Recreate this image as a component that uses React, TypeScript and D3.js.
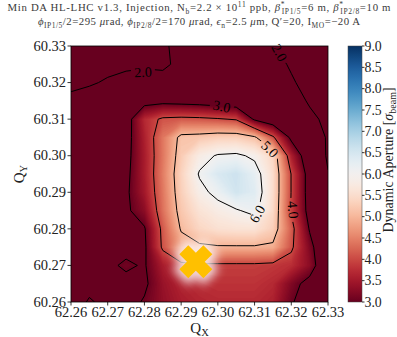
import React from 'react';
import * as d3 from 'd3';

// Tune axes and ticks
const qxTicks = [62.26, 62.27, 62.28, 62.29, 62.3, 62.31, 62.32, 62.33];
const qyTicks = [60.26, 60.27, 60.28, 60.29, 60.3, 60.31, 60.32, 60.33];
const colorTicks = [3.0, 3.5, 4.0, 4.5, 5.0, 5.5, 6.0, 6.5, 7.0, 7.5, 8.0, 8.5, 9.0];
const contourLevels = [2, 3, 4, 5, 6];

// Scan grid: horizontal tune (columns) and vertical tune (rows, top to bottom)
const gridQx = [62.26, 62.265, 62.27, 62.275, 62.28, 62.285, 62.29, 62.295, 62.3, 62.305, 62.31, 62.315, 62.32, 62.325, 62.33];
const gridQy = [60.33, 60.325, 60.32, 60.315, 60.31, 60.305, 60.3, 60.295, 60.29, 60.285, 60.28, 60.275, 60.27, 60.265, 60.26];

// Minimum dynamic aperture [sigma] per tune point, one row per Qy
const daRows: number[][] = [
  [1.5, 1.6, 1.7, 1.8, 1.85, 1.9, 2.2, 2.4, 2.5, 2.4, 2.2, 2.02, 1.8, 1.6, 1.5],
  [1.55, 1.65, 1.75, 1.85, 1.88, 1.85, 2.2, 2.45, 2.55, 2.5, 2.35, 2.15, 1.95, 1.7, 1.6],
  [1.7, 1.9, 2.1, 2.25, 2.35, 2.3, 2.5, 2.55, 2.6, 2.55, 2.45, 2.3, 2.05, 1.85, 1.7],
  [2.3, 2.4, 2.5, 2.6, 2.75, 2.8, 2.75, 2.7, 2.6, 2.5, 2.45, 2.35, 2.2, 1.95, 1.8],
  [2.35, 2.45, 2.55, 2.7, 3.7, 4.1, 4.15, 4.12, 4.05, 3.95, 2.9, 2.5, 2.4, 2.1, 1.9],
  [2.4, 2.5, 2.6, 2.75, 3.6, 4.4, 5.15, 5.2, 5.3, 5.3, 5.1, 4.1, 2.85, 2.3, 1.95],
  [2.45, 2.55, 2.65, 2.8, 3.55, 4.4, 5.25, 5.8, 6.05, 6.1, 5.9, 5.4, 3.6, 2.5, 1.93],
  [2.5, 2.6, 2.7, 2.85, 3.55, 4.45, 5.35, 6.05, 6.45, 6.6, 6.25, 5.5, 3.98, 2.7, 2.02],
  [2.55, 2.65, 2.75, 2.9, 3.5, 4.4, 5.3, 5.85, 6.15, 6.55, 6.35, 5.5, 3.98, 2.7, 2.15],
  [2.55, 2.65, 2.8, 2.9, 3.3, 4.35, 5.2, 5.6, 5.8, 5.95, 6.15, 5.45, 3.95, 2.75, 2.15],
  [2.6, 2.7, 2.8, 2.85, 2.95, 4.15, 5.05, 5.4, 5.55, 5.6, 5.6, 5.3, 4.2, 2.95, 2.2],
  [2.6, 2.7, 2.8, 2.85, 2.9, 4.1, 4.75, 4.9, 4.95, 4.95, 4.95, 4.9, 4.1, 3.2, 2.3],
  [2.6, 2.75, 2.9, 3.08, 2.95, 3.55, 3.85, 3.9, 3.9, 3.9, 3.9, 3.85, 3.75, 3.3, 2.4],
  [2.55, 2.7, 2.8, 2.85, 2.9, 3.4, 3.65, 3.75, 3.8, 3.8, 3.8, 3.7, 3.2, 2.8, 2.35],
  [2.5, 3.1, 2.75, 2.8, 3.05, 3.35, 3.55, 3.65, 3.7, 3.7, 3.7, 3.6, 3.05, 2.7, 2.3],
];

// Inline contour labels: level, position in tune space, rotation
const contourLabels = [
  { level: 2, qx: 62.2796, qy: 60.3229, angle: -2 },
  { level: 2, qx: 62.3168, qy: 60.3282, angle: 62 },
  { level: 3, qx: 62.3011, qy: 60.3135, angle: 12 },
  { level: 5, qx: 62.3142, qy: 60.3018, angle: 45 },
  { level: 4, qx: 62.3205, qy: 60.2852, angle: 85 },
  { level: 6, qx: 62.3107, qy: 60.2841, angle: -60 },
];

// Nominal working point
const workingPoint = { qx: 62.294, qy: 60.271 };

const W = 397;
const H = 337;
const plot = { left: 71, top: 46, right: 328, bottom: 302 };
const cbar = { left: 348, width: 14 };
const FONT = '"Liberation Serif", "DejaVu Serif", serif';

export default function App() {
  const x = d3.scaleLinear().domain([62.26, 62.33]).range([plot.left, plot.right]);
  const y = d3.scaleLinear().domain([60.26, 60.33]).range([plot.bottom, plot.top]);
  const color = d3.scaleSequential(d3.interpolateRdBu).domain([3, 9]).clamp(true);
  const cy = d3.scaleLinear().domain([3, 9]).range([plot.bottom, plot.top]);

  const nx = gridQx.length;
  const ny = gridQy.length;
  const values = daRows.flat();
  const dqx = gridQx[1] - gridQx[0];
  const dqy = gridQy[0] - gridQy[1];

  // grid coordinates -> screen: sample i sits at grid coordinate i + 0.5
  const toScreen = d3.geoTransform({
    point(px: number, py: number) {
      (this as any).stream.point(
        x(gridQx[0] + (px - 0.5) * dqx),
        y(gridQy[0] - (py - 0.5) * dqy)
      );
    },
  });
  const path = d3.geoPath(toScreen);

  const fillLevels = d3.range(3, 7.001, 0.04);
  const bands = d3.contours().size([nx, ny]).thresholds(fillLevels)(values);
  const lines = d3.contours().size([nx, ny]).thresholds(contourLevels)(values);

  // filled X marker (plus rotated by 45 degrees)
  const L = 17;
  const w = 6.3;
  const plusPts = [
    [w, L], [w, w], [L, w], [L, -w], [w, -w], [w, -L],
    [-w, -L], [-w, -w], [-L, -w], [-L, w], [-w, w], [-w, L],
  ];
  const markerPath = 'M' + plusPts.map((p) => p.join(',')).join('L') + 'Z';
  const wpX = x(workingPoint.qx);
  const wpY = y(workingPoint.qy);

  const gradStops = d3.range(0, 1.0001, 0.02);
  const sub = 7.5;

  return (
    <svg
      width={W}
      height={H}
      style={{ position: 'absolute', left: 0, top: 0, background: '#fff' }}
      fontFamily={FONT}
    >
      <defs>
        <clipPath id="plotClip">
          <rect x={plot.left} y={plot.top} width={plot.right - plot.left} height={plot.bottom - plot.top} />
        </clipPath>
        <mask id="labelGaps" maskUnits="userSpaceOnUse" x={0} y={0} width={W} height={H}>
          <rect x={0} y={0} width={W} height={H} fill="white" />
          {contourLabels.map((l, i) => (
            <rect
              key={i}
              transform={`translate(${x(l.qx)},${y(l.qy)}) rotate(${l.angle})`}
              x={-12}
              y={-5}
              width={24}
              height={10}
              fill="black"
            />
          ))}
        </mask>
        <linearGradient id="cbarGrad" x1="0" y1="1" x2="0" y2="0">
          {gradStops.map((t) => (
            <stop key={t} offset={t} stopColor={color(3 + 6 * t)} />
          ))}
        </linearGradient>
        <filter id="halo" x="-60%" y="-60%" width="220%" height="220%">
          <feGaussianBlur stdDeviation="5" />
        </filter>
      </defs>

      {/* title */}
      <g fill="#3a3a3a" fontSize={10.8} textAnchor="middle">
        <text x={199} y={11} textLength={383} lengthAdjust="spacing">
          Min DA HL-LHC v1.3, Injection, N
          <tspan dy={2.5} fontSize={sub}>b</tspan>
          <tspan dy={-2.5}>=2.2 × 10</tspan>
          <tspan dy={-4} fontSize={sub}>11</tspan>
          <tspan dy={4}> ppb, </tspan>
          <tspan fontStyle="italic">β</tspan>
          <tspan dy={-4} fontSize={sub}>*</tspan>
          <tspan dx={-3.5} dy={6.5} fontSize={sub}>IP1/5</tspan>
          <tspan dy={-2.5}>=6 m, </tspan>
          <tspan fontStyle="italic">β</tspan>
          <tspan dy={-4} fontSize={sub}>*</tspan>
          <tspan dx={-3.5} dy={6.5} fontSize={sub}>IP2/8</tspan>
          <tspan dy={-2.5}>=10 m</tspan>
        </text>
        <text x={199} y={25} textLength={322} lengthAdjust="spacing">
          <tspan fontStyle="italic">ϕ</tspan>
          <tspan dy={2.5} fontSize={sub}>IP1/5</tspan>
          <tspan dy={-2.5}>/2=295 </tspan>
          <tspan fontStyle="italic">μ</tspan>
          <tspan>rad, </tspan>
          <tspan fontStyle="italic">ϕ</tspan>
          <tspan dy={2.5} fontSize={sub}>IP2/8</tspan>
          <tspan dy={-2.5}>/2=170 </tspan>
          <tspan fontStyle="italic">μ</tspan>
          <tspan>rad, </tspan>
          <tspan fontStyle="italic">ϵ</tspan>
          <tspan dy={2.5} fontSize={sub}>n</tspan>
          <tspan dy={-2.5}>=2.5 </tspan>
          <tspan fontStyle="italic">μ</tspan>
          <tspan>m, Q′=20, I</tspan>
          <tspan dy={2.5} fontSize={sub}>MO</tspan>
          <tspan dy={-2.5}>=−20 A</tspan>
        </text>
      </g>

      {/* heatmap as finely spaced filled contours */}
      <g clipPath="url(#plotClip)">
        <rect x={plot.left} y={plot.top} width={plot.right - plot.left} height={plot.bottom - plot.top} fill={color(3)} />
        {bands.map((b, i) => (
          <path key={i} d={path(b as any) || ''} fill={color(b.value + 0.02)} stroke="none" />
        ))}
        <g mask="url(#labelGaps)">
          {lines.map((c, i) => (
            <path key={i} d={path(c as any) || ''} fill="none" stroke="#000" strokeWidth={1} strokeLinejoin="round" />
          ))}
        </g>
        {/* working point */}
        <g transform={`translate(${wpX},${wpY}) rotate(45)`}>
          <path d={markerPath} fill="#fff" stroke="#fff" strokeWidth={10} opacity={0.8} filter="url(#halo)" />
          <path d={markerPath} fill="#ffc000" />
        </g>
      </g>

      {contourLabels.map((l, i) => (
        <text
          key={i}
          transform={`translate(${x(l.qx)},${y(l.qy)}) rotate(${l.angle})`}
          textAnchor="middle"
          dy="0.35em"
          fontSize={14}
          fill="#000"
        >
          {l.level.toFixed(1)}
        </text>
      ))}

      {/* frame */}
      <rect x={plot.left} y={plot.top} width={plot.right - plot.left} height={plot.bottom - plot.top} fill="none" stroke="#000" strokeWidth={0.8} />

      {/* x axis */}
      <g fontSize={14.5} fill="#222" textAnchor="middle">
        {qxTicks.map((t) => (
          <g key={t}>
            <line x1={x(t)} x2={x(t)} y1={plot.bottom} y2={plot.bottom + 3.5} stroke="#000" strokeWidth={0.8} />
            <text x={x(t)} y={plot.bottom + 15}>{t.toFixed(2)}</text>
          </g>
        ))}
      </g>
      <text x={(plot.left + plot.right) / 2} y={333} textAnchor="middle" fontSize={15} fill="#222">
        Q<tspan dy={3} fontSize={10.5}>X</tspan>
      </text>

      {/* y axis */}
      <g fontSize={14.5} fill="#222" textAnchor="end">
        {qyTicks.map((t) => (
          <g key={t}>
            <line x1={plot.left - 3.5} x2={plot.left} y1={y(t)} y2={y(t)} stroke="#000" strokeWidth={0.8} />
            <text x={plot.left - 5} y={y(t)} dy="0.33em">{t.toFixed(2)}</text>
          </g>
        ))}
      </g>
      <text transform={`translate(24,${(plot.top + plot.bottom) / 2}) rotate(-90)`} textAnchor="middle" fontSize={15} fill="#222">
        Q<tspan dy={3} fontSize={10.5}>Y</tspan>
      </text>

      {/* colorbar */}
      <rect x={cbar.left} y={plot.top} width={cbar.width} height={plot.bottom - plot.top} fill="url(#cbarGrad)" stroke="#444" strokeWidth={0.5} />
      <g fontSize={13.8} fill="#222">
        {colorTicks.map((t) => (
          <g key={t}>
            <line x1={cbar.left + cbar.width} x2={cbar.left + cbar.width + 2.5} y1={cy(t)} y2={cy(t)} stroke="#000" strokeWidth={0.8} />
            <text x={cbar.left + cbar.width + 2.5} y={cy(t)} dy="0.35em">{t.toFixed(1)}</text>
          </g>
        ))}
      </g>
      <text transform={`translate(393,160) rotate(-90)`} textAnchor="middle" fontSize={14} fill="#222">
        Dynamic Aperture [<tspan fontStyle="italic">σ</tspan>
        <tspan dy={3} fontSize={10}>beam</tspan>
        <tspan dy={-3}>]</tspan>
      </text>
    </svg>
  );
}
